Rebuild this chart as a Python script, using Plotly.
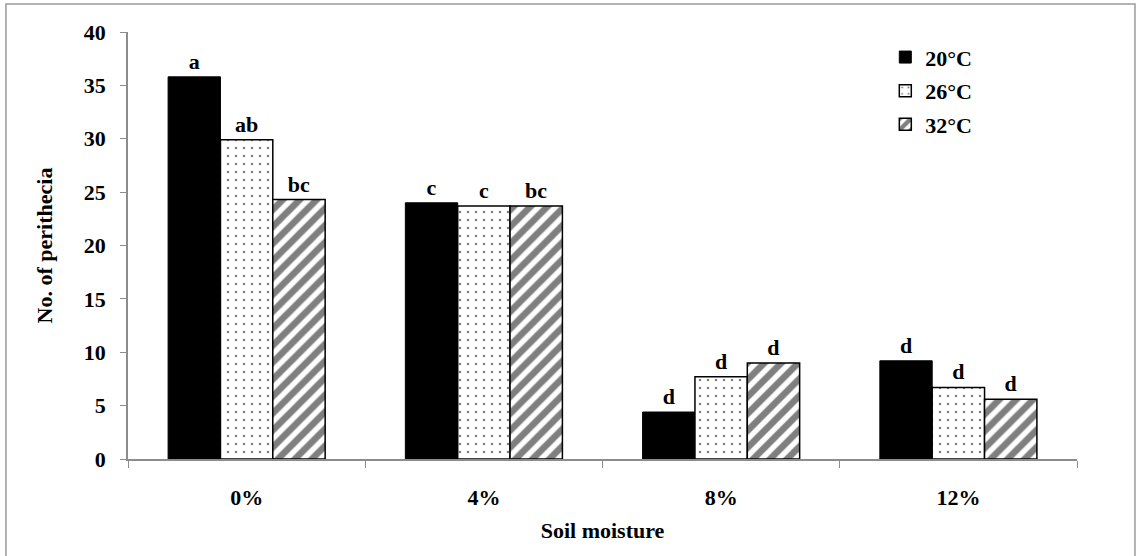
import plotly.graph_objects as go

categories = ["0%", "4%", "8%", "12%"]
series_names = ["20°C", "26°C", "32°C"]
values_20 = [35.8, 24.0, 4.4, 9.2]
values_26 = [29.9, 23.7, 7.7, 6.7]
values_32 = [24.3, 23.7, 9.0, 5.6]
letters_20 = ["a", "c", "d", "d"]
letters_26 = ["ab", "c", "d", "d"]
letters_32 = ["bc", "bc", "d", "d"]
y_ticks = [0, 5, 10, 15, 20, 25, 30, 35, 40]

FONT = "Liberation Serif"
GRAY = "#8c8c8c"
FS = 22

fig = go.Figure()

styles = [
    dict(color="black", pattern=dict(shape=""), line=dict(color="black", width=1)),
    dict(color="white", pattern=dict(shape=".", fgcolor="black", bgcolor="white", size=8, solidity=0.08),
         line=dict(color="black", width=1.5)),
    dict(color="white", pattern=dict(shape="/", fgcolor="black", bgcolor="white", size=12, solidity=0.55),
         line=dict(color="black", width=1.5)),
]

for name, vals, letters, st in zip(series_names, [values_20, values_26, values_32],
                                   [letters_20, letters_26, letters_32], styles):
    fig.add_trace(go.Bar(
        x=categories, y=vals, name=name, text=letters, textposition="outside",
        textfont=dict(family=FONT, size=FS, color="black", weight="bold"),
        marker=st, legendgroup=name, cliponaxis=False,
    ))

fig.update_layout(
    width=1136, height=556,
    margin=dict(l=128, r=59, t=32, b=97),
    paper_bgcolor="white", plot_bgcolor="white",
    barmode="group", bargap=0.338, bargroupgap=0,
    font=dict(family=FONT, color="black"),
    legend=dict(x=0.798, y=0.99, xanchor="left", yanchor="top",
                font=dict(family=FONT, size=FS, color="black", weight="bold"),
                tracegroupgap=2, bgcolor="rgba(0,0,0,0)"),
    shapes=[dict(type="rect", xref="paper", yref="paper",
                 x0=-0.1286, x1=1.0611, y0=-0.24, y1=1.0656,
                 line=dict(color="#9a9a9a", width=1.5))],
)

fig.update_yaxes(range=[0, 40], tickvals=y_ticks, showline=True, linecolor=GRAY, linewidth=1.5,
                 ticks="outside", ticklen=6, tickcolor=GRAY, showgrid=False, zeroline=False,
                 ticklabelstandoff=10,
                 tickfont=dict(family=FONT, size=FS, color="black", weight="bold"),
                 title=dict(text="No. of perithecia", standoff=25,
                            font=dict(family=FONT, size=FS, color="black", weight="bold")))
fig.update_xaxes(showline=True, linecolor=GRAY, linewidth=1.5, ticks="outside", ticklen=7,
                 tickcolor=GRAY, tickson="boundaries", showgrid=False, ticklabelstandoff=18,
                 tickfont=dict(family=FONT, size=FS, color="black", weight="bold"),
                 title=dict(text="Soil moisture", standoff=13,
                            font=dict(family=FONT, size=FS, color="black", weight="bold")))

fig.write_html("out.html", config={"displayModeBar": False},
               post_script="document.body.style.margin='0';")
